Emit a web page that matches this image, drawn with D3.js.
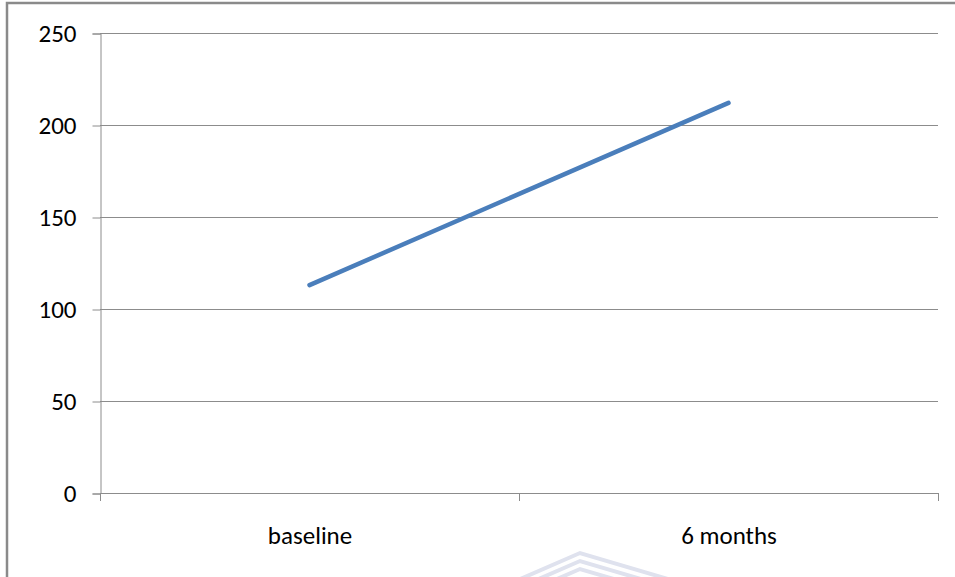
<!DOCTYPE html>
<html><head><meta charset="utf-8">
<script src="https://cdn.jsdelivr.net/npm/d3@7/dist/d3.min.js"></script>
<style>body{margin:0;background:#fff}svg{display:block}</style>
</head><body>
<script>
const categories = ["baseline", "6 months"];
const values = [113, 212];
const yTicks = [0, 50, 100, 150, 200, 250];

const W = 955, H = 577;
const m = {left: 100, right: 17, top: 33, bottom: 84};
const svg = d3.select("body").append("svg").attr("width", W).attr("height", H);

// outer frame
svg.append("path").attr("d", "M7,580 V3 H960").attr("fill", "none")
  .attr("stroke", "#8a8a8a").attr("stroke-width", 2.5);

const x = d3.scaleBand().domain(categories).range([m.left, W - m.right]);
const y = d3.scaleLinear().domain([0, 250]).range([H - m.bottom, m.top]);

const font = "Carlito, 'Open Sans', 'Liberation Sans', sans-serif";
const fs = 25;

// gridlines
svg.append("g").selectAll("line").data(yTicks.filter(d => d > 0)).join("line")
  .attr("x1", m.left).attr("x2", W - m.right)
  .attr("y1", d => Math.round(y(d)) + 0.5).attr("y2", d => Math.round(y(d)) + 0.5)
  .attr("stroke", "#8c8c8c").attr("stroke-width", 1);

// y axis
const ya = svg.append("g").attr("transform", `translate(${m.left + 0.5},0.5)`)
  .call(d3.axisLeft(y).tickValues(yTicks).tickSize(8).tickPadding(16));
ya.select(".domain").attr("stroke", "#8c8c8c");
ya.selectAll(".tick line").attr("stroke", "#8c8c8c");
ya.selectAll("text").attr("font-family", font).attr("font-size", fs).attr("fill", "#000");

// x axis
const xa = svg.append("g").attr("transform", `translate(0.5,${H - m.bottom + 0.5})`)
  .call(d3.axisBottom(x).tickSize(0).tickPadding(33));
xa.select(".domain").attr("stroke", "#8c8c8c").attr("d", `M${m.left},0H${W - m.right}`);
xa.selectAll("text").attr("font-family", font).attr("font-size", fs).attr("fill", "#000");
// category boundary ticks
const bounds = [x(categories[0]), x(categories[1]), x(categories[1]) + x.bandwidth()];
svg.append("g").selectAll("line").data(bounds).join("line")
  .attr("x1", d => Math.round(d) + 0.5).attr("x2", d => Math.round(d) + 0.5)
  .attr("y1", H - m.bottom).attr("y2", H - m.bottom + 8)
  .attr("stroke", "#8c8c8c");

// line
const line = d3.line().x((d, i) => x(categories[i]) + x.bandwidth() / 2).y(d => y(d));
svg.append("path").datum(values).attr("d", line).attr("fill", "none")
  .attr("stroke", "#4a7ebb").attr("stroke-width", 4.5).attr("stroke-linecap", "round");

// faint watermark
const wm = svg.append("g").attr("fill", "none").attr("stroke", "#dfe2ee").attr("stroke-width", 4);
[0, 8, 16].forEach(o => {
  wm.append("path").attr("d", `M495,${590 + o} L580,${553 + o} L705,${590 + o}`);
});
</script>
</body></html>
